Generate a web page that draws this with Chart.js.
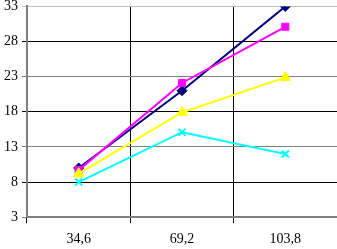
<!DOCTYPE html>
<html>
<head>
<meta charset="utf-8">
<script src="https://cdn.jsdelivr.net/npm/chart.js@4/dist/chart.umd.min.js"></script>
<style>
  html, body { margin: 0; padding: 0; background: #fff; }
  #wrap { width: 337px; height: 249px; position: relative; overflow: hidden; }
  #chart { position: absolute; left: 0; top: -6px; }
</style>
</head>
<body>
<div id="wrap"><canvas id="chart" width="344" height="262"></canvas></div>
<script>
const categories = ["34,6", "69,2", "103,8"];
const seriesBlue = [10, 21, 33];
const seriesMagenta = [9.7, 22.1, 30.1];
const seriesYellow = [9.2, 17.9, 22.9];
const seriesCyan = [8, 15.1, 12];
const yTicks = [3, 8, 13, 18, 23, 28, 33];

Chart.defaults.font.family = "Liberation Serif";
const font = { family: "Liberation Serif", size: 14 };

function series(data, color, style, radius) {
  return {
    data: data,
    borderColor: color,
    backgroundColor: color,
    pointStyle: style,
    pointRadius: radius,
    pointBorderWidth: style === 'crossRot' ? 2 : 1,
    borderWidth: 2,
    tension: 0
  };
}

new Chart(document.getElementById("chart"), {
  type: "line",
  data: {
    labels: categories,
    datasets: [
      series(seriesCyan, "#00FFFF", "crossRot", 5),
      series(seriesYellow, "#FFFF00", "triangle", 6),
      series(seriesMagenta, "#FF00FF", "rect", 5),
      series(seriesBlue, "#000080", "rectRot", 5)
    ]
  },
  options: {
    responsive: false,
    animation: false,
    plugins: { legend: { display: false }, tooltip: { enabled: false } },
    scales: {
      x: {
        offset: true,
        grid: {
          offset: true,
          color: "#000",
          lineWidth: 1,
          tickLength: 6,
          drawTicks: true
        },
        border: { color: "#808080", width: 2 },
        ticks: { color: "#000", font: font, padding: 8 }
      },
      y: {
        min: 3,
        max: 33,
        afterBuildTicks: axis => { axis.ticks = yTicks.map(v => ({ value: v })); },
        grid: {
          color: ctx => ctx.index === 6 ? "#c0c0c0" : (ctx.index % 2 === 0 ? "#808080" : "#000"),
          lineWidth: 1,
          tickLength: 5
        },
        border: { color: "#808080", width: 2 },
        ticks: { color: "#000", font: font, padding: 4 }
      }
    }
  }
});
</script>
</body>
</html>
